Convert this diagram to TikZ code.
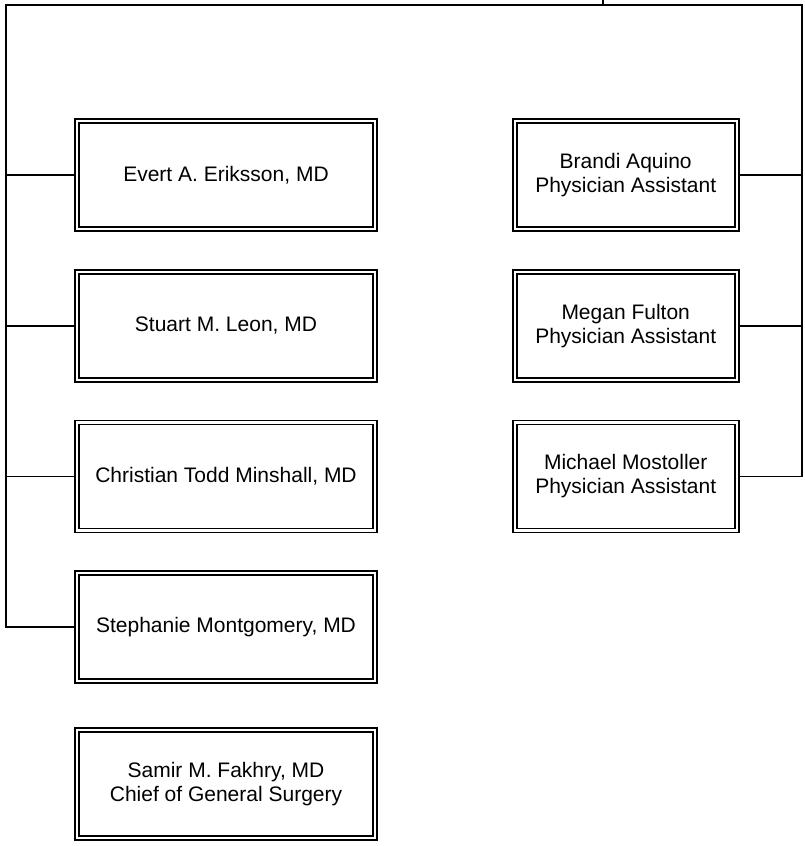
\documentclass[tikz,border=0pt]{standalone}
\usepackage{fontspec}
\setmainfont{Liberation Sans}
\usetikzlibrary{positioning}

\begin{document}
\begin{tikzpicture}[x=1pt, y=-1pt, node distance=37pt and 134pt,
	link/.style={draw, line width=1.6pt},
	staff/.style={rectangle, draw, line width=1.7pt, double, double distance=2.3pt, outer sep=2.85pt,
		minimum width=298pt, minimum height=108pt, inner sep=0pt, align=center,
		font=\fontsize{21}{24}\selectfont},
	assistant/.style={staff, minimum width=222pt}]
	\useasboundingbox (0,0) rectangle (804,846);

	\node[staff] (eriksson) at (226,175)                     {Evert A. Eriksson, MD};
	\node[staff] (leon) [below=of eriksson]                  {Stuart M. Leon, MD};
	\node[staff] (minshall) [below=of leon]                  {Christian Todd Minshall, MD};
	\node[staff] (montgomery) [below=of minshall]            {Stephanie Montgomery, MD};
	\node[staff] (fakhry) [node distance=43pt, below=of montgomery] {Samir M. Fakhry, MD\\Chief of General Surgery};

	\node[assistant] (aquino) [right=of eriksson]            {Brandi Aquino\\Physician Assistant};
	\node[assistant] (fulton) [below=of aquino]              {Megan Fulton\\Physician Assistant};
	\node[assistant] (mostoller) [below=of fulton]           {Michael Mostoller\\Physician Assistant};

	% bus from the parent
	\coordinate (root) at (603,0);
	\coordinate (bus) at (603,5);
	\coordinate (lcorner) at (6,5);
	\coordinate (rcorner) at (802,5);

	\draw[link] (root) -- (bus);
	\draw[link] (montgomery.west) -| (lcorner) -- (rcorner) |- (mostoller.east);
	\foreach \n in {eriksson,leon,minshall}
		\draw[link] (\n.west) -- (\n.west -| lcorner);
	\foreach \n in {aquino,fulton}
		\draw[link] (\n.east) -- (\n.east -| rcorner);
\end{tikzpicture}
\end{document}
